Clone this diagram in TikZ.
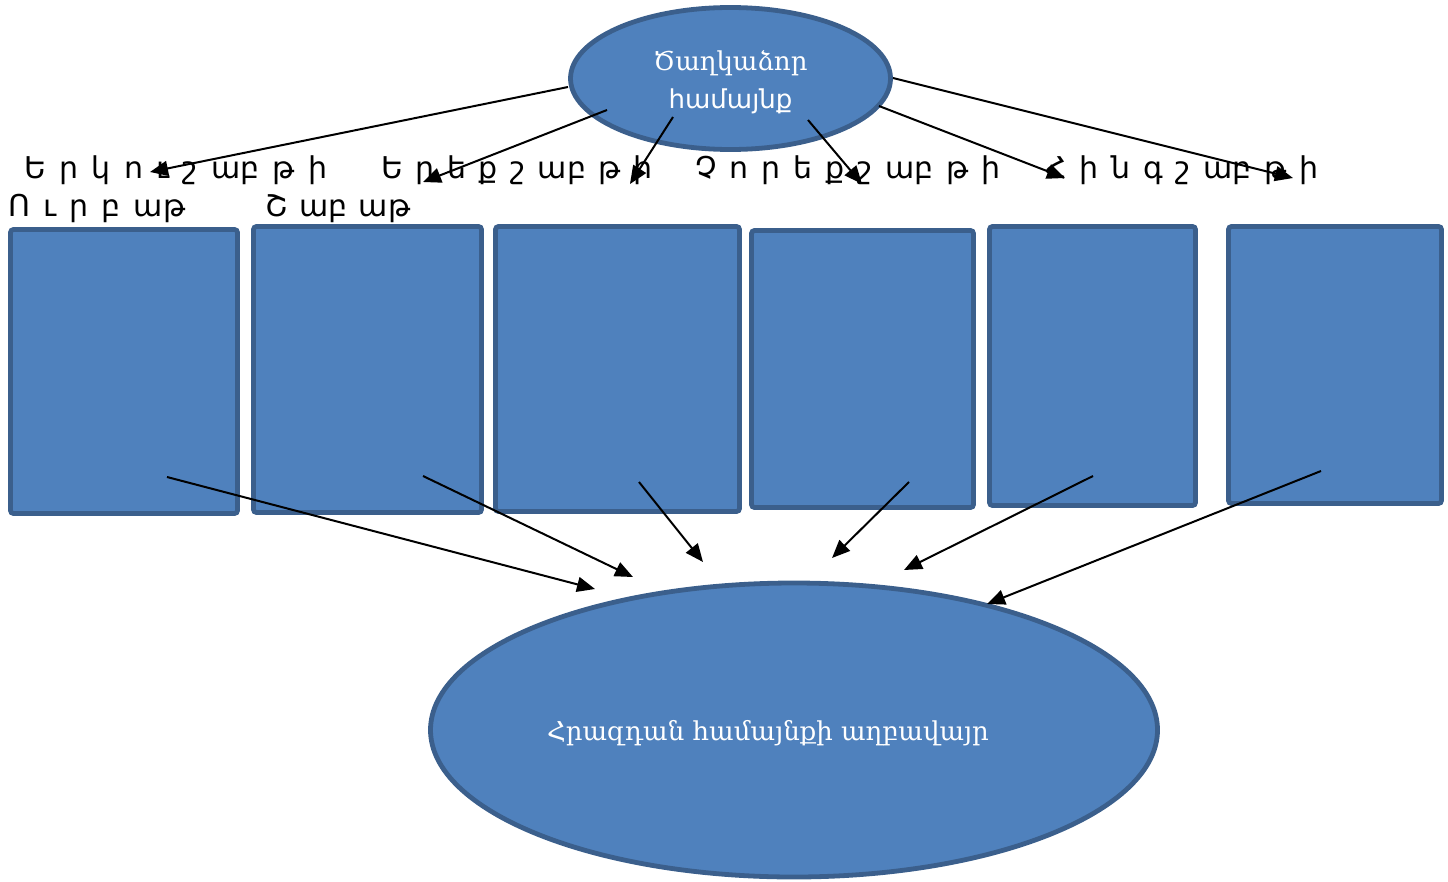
\documentclass[tikz,border=0pt]{standalone}
\usepackage{fontspec}
\setmainfont{DejaVu Serif}
\newfontfamily\armsans{DejaVu Sans}
\newfontfamily\armserif{DejaVu Serif}
\usetikzlibrary{arrows.meta,shapes.geometric}
\definecolor{fillblue}{HTML}{4F81BD}
\definecolor{edgeblue}{HTML}{3B5F8C}
\newcommand\spacedword[2]{\makebox[#1][s]{#2}}
\tikzset{
  shapebox/.style={draw=edgeblue, fill=fillblue, line width=4.8pt, rectangle, rounded corners=3pt, inner sep=0pt},
  shapeell/.style={draw=edgeblue, fill=fillblue, line width=4.8pt, ellipse, inner sep=0pt},
  whitetxt/.style={text=white, font=\armserif\fontsize{26}{38}\selectfont, align=center, inner sep=0pt},
  daylbl/.style={font=\armsans\fontsize{30}{36}\selectfont, inner sep=0pt, anchor=base west},
  conn/.style={line width=2pt, -{Triangle[length=18pt,width=15pt]}}
}
\begin{document}
\begin{tikzpicture}[x=1pt,y=-1pt]
\useasboundingbox (0,0) rectangle (1448,881);
% boxes
\node[shapebox, minimum width=227pt, minimum height=284pt] (b1) at (124,371.5) {};
\node[shapebox, minimum width=228pt, minimum height=286pt] (b2) at (367.5,369.5) {};
\node[shapebox, minimum width=244pt, minimum height=285pt] (b3) at (617.5,369) {};
\node[shapebox, minimum width=222pt, minimum height=277pt] (b4) at (862.5,369) {};
\node[shapebox, minimum width=206pt, minimum height=279pt] (b5) at (1092.5,366) {};
\node[shapebox, minimum width=213pt, minimum height=277pt] (b6) at (1335,365) {};
% ellipses
\node[shapeell, minimum width=320pt, minimum height=142pt] (top) at (730.5,78.5) {};
\node[whitetxt] (toptxt) at (730.5,82) {Ծաղկաձոր\\{\armsans համայնք}};
\node[shapeell, minimum width=727pt, minimum height=294pt] (dump) at (794,730) {};
\node[whitetxt] (dumptxt) at (768,733) {Հրազդան համայնքի աղբավայր};
% day labels
\node[daylbl] (mon) at (24,178) {\spacedword{303pt}{Ե\hfill ր\hfill կ\hfill ո\hfill ւ\hfill շ\hfill աբ\hfill թ\hfill ի}};
\node[daylbl] (tue) at (381,178) {\spacedword{271pt}{Ե\hfill ր\hfill ե\hfill ք\hfill շ\hfill աբ\hfill թ\hfill ի}};
\node[daylbl] (wed) at (695,178) {\spacedword{305pt}{Չ\hfill ո\hfill ր\hfill ե\hfill ք\hfill շ\hfill աբ\hfill թ\hfill ի}};
\node[daylbl] (thu) at (1045,178) {\spacedword{273pt}{Հ\hfill ի\hfill ն\hfill գ\hfill շ\hfill աբ\hfill թ\hfill ի}};
\node[daylbl] (fri) at (8,216) {\spacedword{177pt}{Ո\hfill ւ\hfill ր\hfill բ\hfill աթ}};
\node[daylbl] (sat) at (265,216) {\spacedword{145pt}{Շ\hfill աբ\hfill աթ}};
% connector coordinates
\coordinate (s1) at (568,87);   \coordinate (e1) at (150,172);
\coordinate (s2) at (607,110);  \coordinate (e2) at (423,182);
\coordinate (s3) at (673,117);  \coordinate (e3) at (630,184);
\coordinate (s4) at (808,120);  \coordinate (e4) at (862,184);
\coordinate (s5) at (879,106);  \coordinate (e5) at (1065,178);
\coordinate (s6) at (893,78);   \coordinate (e6) at (1293,178);
\coordinate (f1) at (167,477);  \coordinate (g1) at (595,589);
\coordinate (f2) at (423,476);  \coordinate (g2) at (633,577);
\coordinate (f3) at (639,482);  \coordinate (g3) at (703,562);
\coordinate (f4) at (909,482);  \coordinate (g4) at (832,558);
\coordinate (f5) at (1093,476); \coordinate (g5) at (904,570);
\coordinate (f6) at (1321,471); \coordinate (g6) at (987,604);
\foreach \a/\b in {s1/e1,s2/e2,s3/e3,s4/e4,s5/e5,s6/e6,f1/g1,f2/g2,f3/g3,f4/g4,f5/g5,f6/g6}
  \draw[conn] (\a) -- (\b);
\end{tikzpicture}
\end{document}
